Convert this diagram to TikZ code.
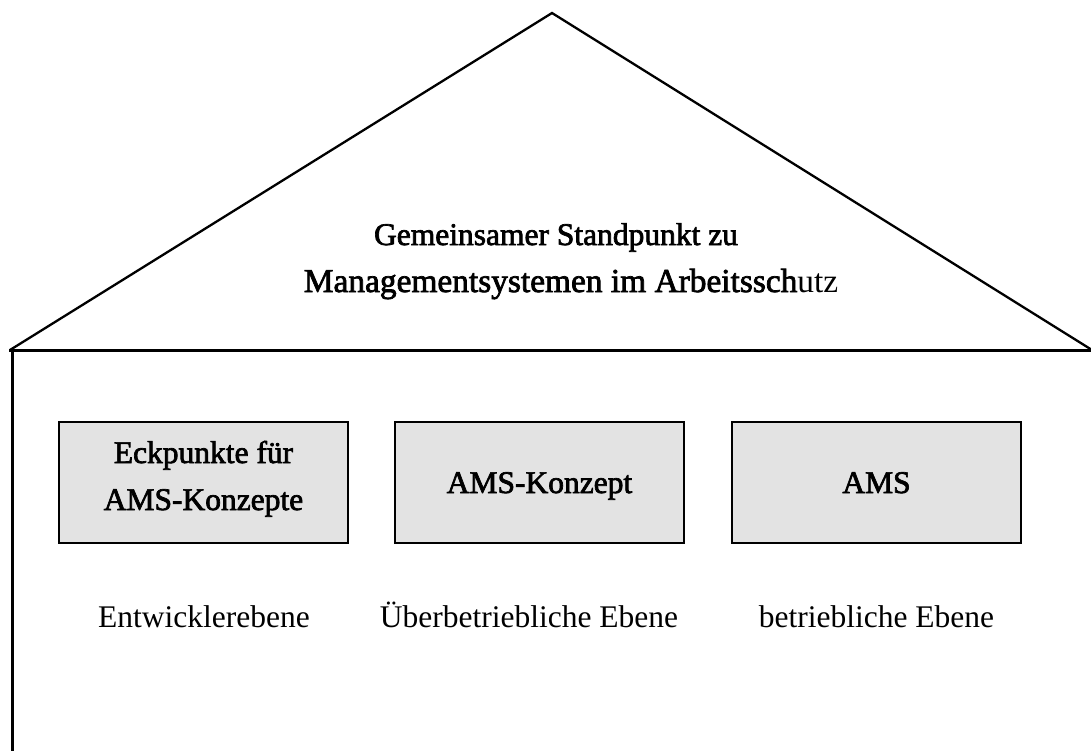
\documentclass[tikz,border=0pt]{standalone}
\usepackage{fontspec}
\setmainfont{Liberation Serif}
\newfontfamily\heavy{Liberation Serif}[FakeBold=2.2]
\begin{document}
\begin{tikzpicture}[x=1pt,y=-1pt,
  wall/.style={line width=3pt,line cap=rect},
  roofline/.style={line width=2.3pt,line join=miter},
  boxstyle/.style={draw=black,line width=2.6pt,fill=boxgray,minimum width=289pt,minimum height=121pt,inner sep=0pt,outer sep=0pt},
  txt/.style={anchor=base,inner sep=0pt,font=\fontsize{31.5}{40}\selectfont},
  btxt/.style={txt,font=\fontsize{31.5}{40}\selectfont\heavy}]
\definecolor{boxgray}{HTML}{E3E3E3}
\useasboundingbox (0,0) rectangle (1091,751);
% house outline
\coordinate (eaveL) at (10,350);
\coordinate (apex) at (552,13);
\coordinate (eaveR) at (1092,350);
\coordinate (wallB) at (12,752);
\coordinate (wallT) at (12,350);
\draw[roofline] (eaveL) -- (apex) -- (eaveR);
\draw[wall] (eaveL) -- (1091,350);
\draw[wall] (wallT) -- (wallB);
% roof text
\node[btxt] (r1) at (556,245) {Gemeinsamer Standpunkt zu};
\node[txt,font=\fontsize{33.4}{40}\selectfont] (r2) at (571,292) {{\heavy Managementsystemen im Arbeitssch}utz};
% boxes
\node[boxstyle] (b1) at (203.5,482.5) {};
\node[boxstyle] (b2) at (539.5,482.5) {};
\node[boxstyle] (b3) at (876.5,482.5) {};
\node[btxt] (b1a) at (203.5,463) {Eckpunkte für};
\node[btxt] (b1b) at (203.5,510) {AMS-Konzepte};
\node[btxt] (b2a) at (539.5,493) {AMS-Konzept};
\node[btxt] (b3a) at (876.5,493) {AMS};
% level labels
\node[txt] (l1) at (204,627) {Entwicklerebene};
\node[txt] (l2) at (529,627) {Überbetriebliche Ebene};
\node[txt] (l3) at (876.5,627) {betriebliche Ebene};
\end{tikzpicture}
\end{document}
